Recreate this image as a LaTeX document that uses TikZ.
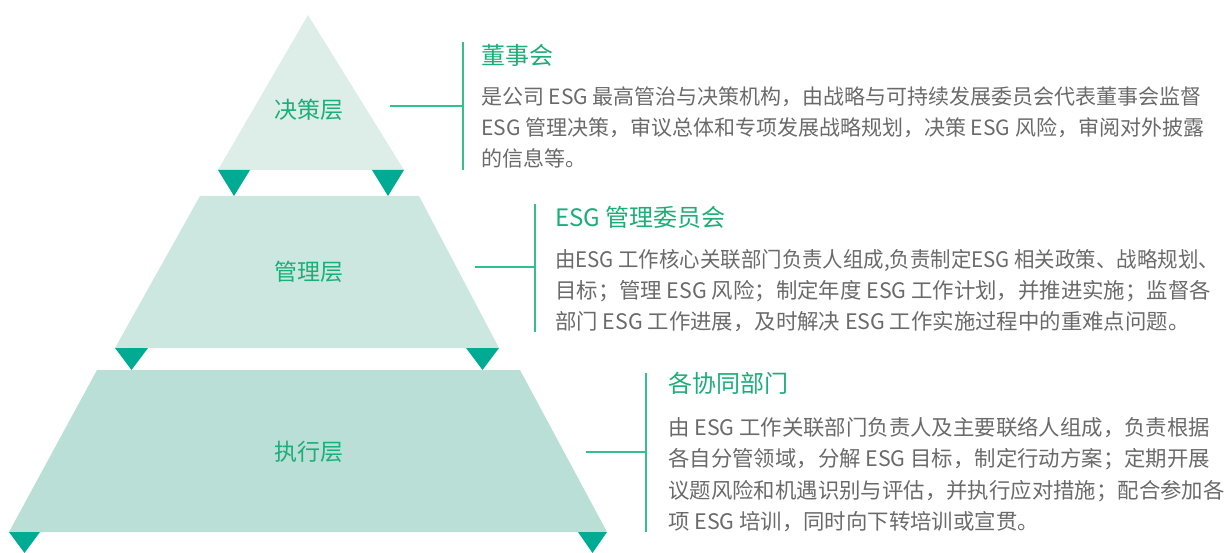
\documentclass[tikz,border=0pt]{standalone}
\usepackage{fontspec}
\setmainfont{Noto Sans CJK SC}
\usepackage{xcolor}
\usetikzlibrary{positioning}
\definecolor{layerA}{HTML}{DDEEE9}
\definecolor{layerB}{HTML}{CCE7E0}
\definecolor{layerC}{HTML}{B9DFD6}
\definecolor{markgreen}{HTML}{00AB93}
\definecolor{labelgreen}{HTML}{1BAE78}
\definecolor{linkgreen}{HTML}{33C08C}
\definecolor{bodygray}{HTML}{6A6A6A}
\tikzset{%
	marker/.style   = {fill=markgreen},
	lvl/.style      = {text=labelgreen, font=\fontsize{23}{23}\selectfont, inner sep=0pt},
	title/.style    = {text=labelgreen, font=\fontsize{24}{24}\selectfont, inner sep=0pt, anchor=west},
	body/.style     = {text=bodygray, font=\fontsize{21}{31}\selectfont, align=left, inner sep=0pt, anchor=north west},
	widebody/.style = {body, font=\fontsize{21.4}{31.3}\selectfont},
	link/.style     = {draw=linkgreen, line width=1.4pt},
}

\begin{document}
\begin{tikzpicture}[x=1pt,y=-1pt]
	\useasboundingbox (0,0) rectangle (1230,553);
	
	% layers
	\fill[layerA] (308,15) -- (404,170) -- (218,170) -- cycle;
	\fill[layerB] (200,196) -- (419,196) -- (499,348) -- (115,348) -- cycle;
	\fill[layerC] (97,370) -- (520,370) -- (607,532) -- (9,532) -- cycle;
	\foreach \a/\b/\y/\h in {218/250/170/196, 372/404/170/196, 115/148/348/370, 466/499/348/370, 9/40/532/553, 578/607/532/553}
		\fill[marker] (\a,\y) -- (\b,\y) -- ({(\a+\b)/2},\h) -- cycle;
	
	\node[lvl] (board) at (309,110) {决策层};
	\node[lvl] (mgmt)  at (309,272) {管理层};
	\node[lvl] (exec)  at (309,452) {执行层};
	
	% brackets
	\coordinate (tipA) at (390,106);
	\coordinate (barAtop) at (463,42);
	\coordinate (barAbot) at (463,170);
	\coordinate (tipB) at (475,267);
	\coordinate (barBtop) at (535,204);
	\coordinate (barBbot) at (535,332);
	\coordinate (tipC) at (586,452);
	\coordinate (barCtop) at (646,373);
	\coordinate (barCbot) at (646,532);
	\draw[link] (barAtop) -- (barAbot);
	\draw[link] (tipA) -- (tipA -| barAtop);
	\draw[link] (barBtop) -- (barBbot);
	\draw[link] (tipB) -- (tipB -| barBtop);
	\draw[link] (barCtop) -- (barCbot);
	\draw[link] (tipC) -- (tipC -| barCtop);
	
	% texts
	\node[title] (boardT) at (481,55) {董事会};
	\node[body]  (boardD) at (481,87) {是公司 ESG 最高管治与决策机构，由战略与可持续发展委员会代表董事会监督\\ESG 管理决策，审议总体和专项发展战略规划，决策 ESG 风险，审阅对外披露\\的信息等。};
	
	\node[title]    (mgmtT) at (555,217) {ESG 管理委员会};
	\node[widebody] (mgmtD) at (555,249) {\scalebox{0.955}[1]{由ESG 工作核心关联部门负责人组成,负责制定ESG 相关政策、战略规划、}\\目标；管理 ESG 风险；制定年度 ESG 工作计划，并推进实施；监督各\\部门 ESG 工作进展，及时解决 ESG 工作实施过程中的重难点问题。};
	
	\node[title]    (execT) at (668,383) {各协同部门};
	\node[widebody] (execD) at (668,417) {由 ESG 工作关联部门负责人及主要联络人组成，负责根据\\各自分管领域，分解 ESG 目标，制定行动方案；定期开展\\议题风险和机遇识别与评估，并执行应对措施；配合参加各\\项 ESG 培训，同时向下转培训或宣贯。};
\end{tikzpicture}
\end{document}
